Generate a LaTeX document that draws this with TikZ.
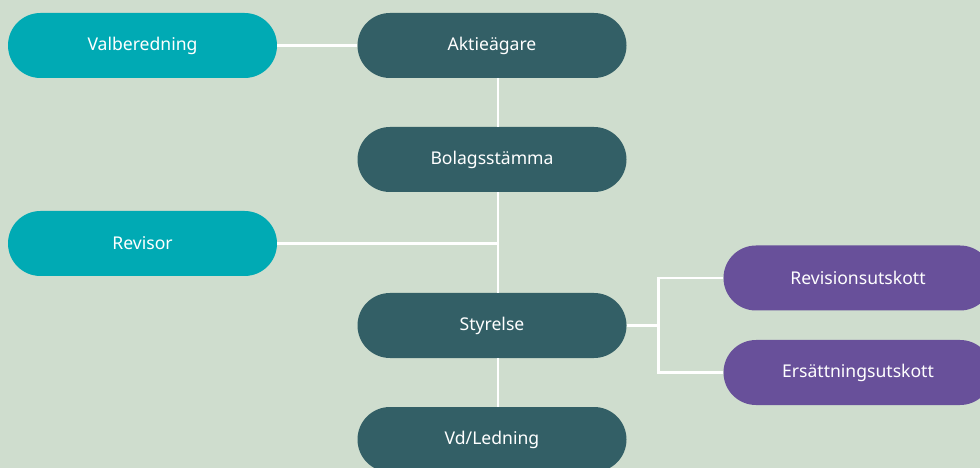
\documentclass[tikz,border=0pt]{standalone}
\usepackage{fontspec}
\setmainfont{Noto Sans}
\usetikzlibrary{positioning,calc}
\definecolor{bgcol}{HTML}{CFDDCE}
\definecolor{tealcol}{HTML}{00AAB4}
\definecolor{slatecol}{HTML}{335F66}
\definecolor{purplecol}{HTML}{68509A}
\tikzset{
  box/.style={rectangle, rounded corners=0.65cm, minimum width=5.38cm, minimum height=1.3cm,
    inner sep=0pt, text=white, font=\fontsize{10}{12}\selectfont},
  owner/.style={box, fill=slatecol},
  side/.style={box, fill=tealcol},
  committee/.style={box, fill=purplecol},
  link/.style={draw=white, line width=1.6pt}
}
\begin{document}
\begin{tikzpicture}[node distance=2cm,on grid]
        \fill[bgcol] (0,0) rectangle (19.6,-9.36);
        \useasboundingbox (0,0) rectangle (19.6,-9.36);
        \node[side] (valb) at (2.85,-0.91) {Valberedning};
        \node[owner] (akt) [right=6.99cm of valb] {Aktieägare};
        \node[owner] (bol) [below=2.28cm of akt] {Bolagsstämma};
        \node[side] (rev) [below=3.96cm of valb] {Revisor};
        \node[owner] (sty) [below=3.32cm of bol] {Styrelse};
        \node[owner] (vd) [below=2.28cm of sty] {Vd/Ledning};
        \node[committee] (revu) [above right=0.95cm and 7.32cm of sty] {Revisionsutskott};
        \node[committee] (ers) [below right=0.94cm and 7.32cm of sty] {Ersättningsutskott};
        \coordinate (spine) at ($(akt.south)+(0.12,0)$);
        \coordinate (fork) at ($(sty.east)+(0.64,0)$);
        \path[link] (valb) edge (akt);
        \path[link] (akt.south -| spine) edge (bol.north -| spine);
        \path[link] (bol.south -| spine) edge (sty.north -| spine);
        \path[link] (sty.south -| spine) edge (vd.north -| spine);
        \path[link] (rev.east) edge (rev.east -| spine);
        \path[link] (sty.east) edge (fork);
        \draw[link] (revu.west) -- (revu.west -| fork) -- (ers.west -| fork) -- (ers.west);
      \end{tikzpicture}
\end{document}
